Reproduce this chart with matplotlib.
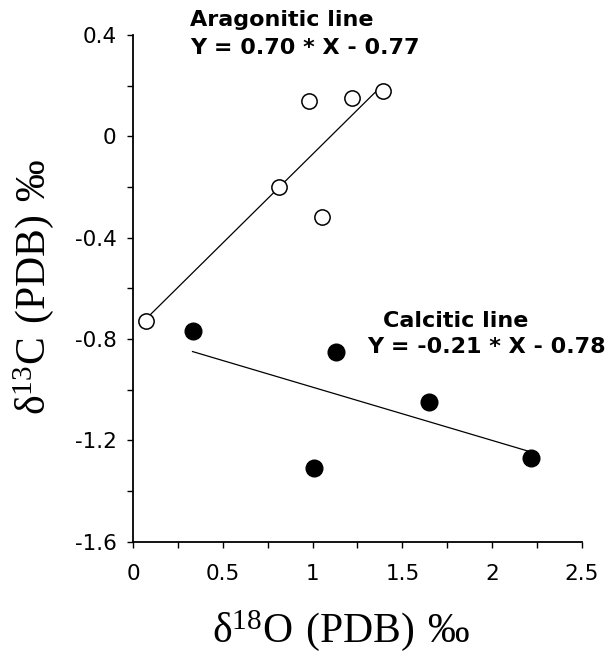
import numpy as np
import matplotlib.pyplot as plt
from matplotlib.ticker import MultipleLocator

# aragonitic samples (open circles)
arag_x = [0.07, 0.81, 0.98, 1.05, 1.22, 1.39]
arag_y = [-0.73, -0.20, 0.14, -0.32, 0.15, 0.18]
arag_fit = (0.70, -0.77)

# calcitic samples (filled circles)
calc_x = [0.33, 1.01, 1.13, 1.65, 2.22]
calc_y = [-0.77, -1.31, -0.85, -1.05, -1.27]
calc_fit = (-0.21, -0.78)

sans = ['DejaVu Sans']
serif = ['Liberation Serif', 'DejaVu Serif']

fig = plt.figure(figsize=(6.15, 6.6), dpi=100)
ax = fig.add_axes([0.2168, 0.1792, 0.729, 0.7677])

# regression lines over the range of each series
xa = np.array([min(arag_x), max(arag_x)])
ax.plot(xa, arag_fit[0] * xa + arag_fit[1], color='black', linewidth=0.9)
xc = np.array([min(calc_x), max(calc_x)])
ax.plot(xc, calc_fit[0] * xc + calc_fit[1], color='black', linewidth=0.9)

ax.plot(arag_x, arag_y, 'o', markersize=11, markerfacecolor='white',
        markeredgecolor='black', markeredgewidth=1.1)
ax.plot(calc_x, calc_y, 'o', markersize=12, color='black')

ax.set_xlim(0, 2.5)
ax.set_ylim(-1.6, 0.4)
ax.xaxis.set_major_locator(MultipleLocator(0.5))
ax.xaxis.set_minor_locator(MultipleLocator(0.25))
ax.yaxis.set_major_locator(MultipleLocator(0.4))
ax.yaxis.set_minor_locator(MultipleLocator(0.2))
ax.xaxis.set_major_formatter(lambda v, p: f'{v:g}')
ax.yaxis.set_major_formatter(lambda v, p: f'{v:g}')

for s in ['top', 'right']:
    ax.spines[s].set_visible(False)
for s in ['left', 'bottom']:
    ax.spines[s].set_linewidth(1.3)

ax.tick_params(which='both', direction='out', length=4, width=1)
ax.tick_params(axis='x', pad=12)
ax.tick_params(axis='y', pad=8)
for lab in ax.get_xticklabels() + ax.get_yticklabels():
    lab.set_family(sans)
    lab.set_fontsize(15.5)

# equation annotations
ax.text(0.316, 0.459, 'Aragonitic line', family=sans, fontweight='bold', fontsize=16, va='center')
ax.text(0.316, 0.349, 'Y = 0.70 * X - 0.77', family=sans, fontweight='bold', fontsize=16, va='center')
ax.text(1.392, -0.729, 'Calcitic line', family=sans, fontweight='bold', fontsize=16, va='center')
ax.text(1.303, -0.831, 'Y = -0.21 * X - 0.78', family=sans, fontweight='bold', fontsize=16, va='center')

fig.text(0.555, 0.044, r'$\mathregular{\delta^{18}O\ (PDB)\ ‰}$', family=serif,
         fontsize=30, ha='center', va='center')
fig.text(0.054, 0.566, r'$\mathregular{\delta^{13}C\ (PDB)\ ‰}$', family=serif,
         fontsize=30, ha='center', va='center', rotation=90)

fig.savefig('out.png', dpi=100)
